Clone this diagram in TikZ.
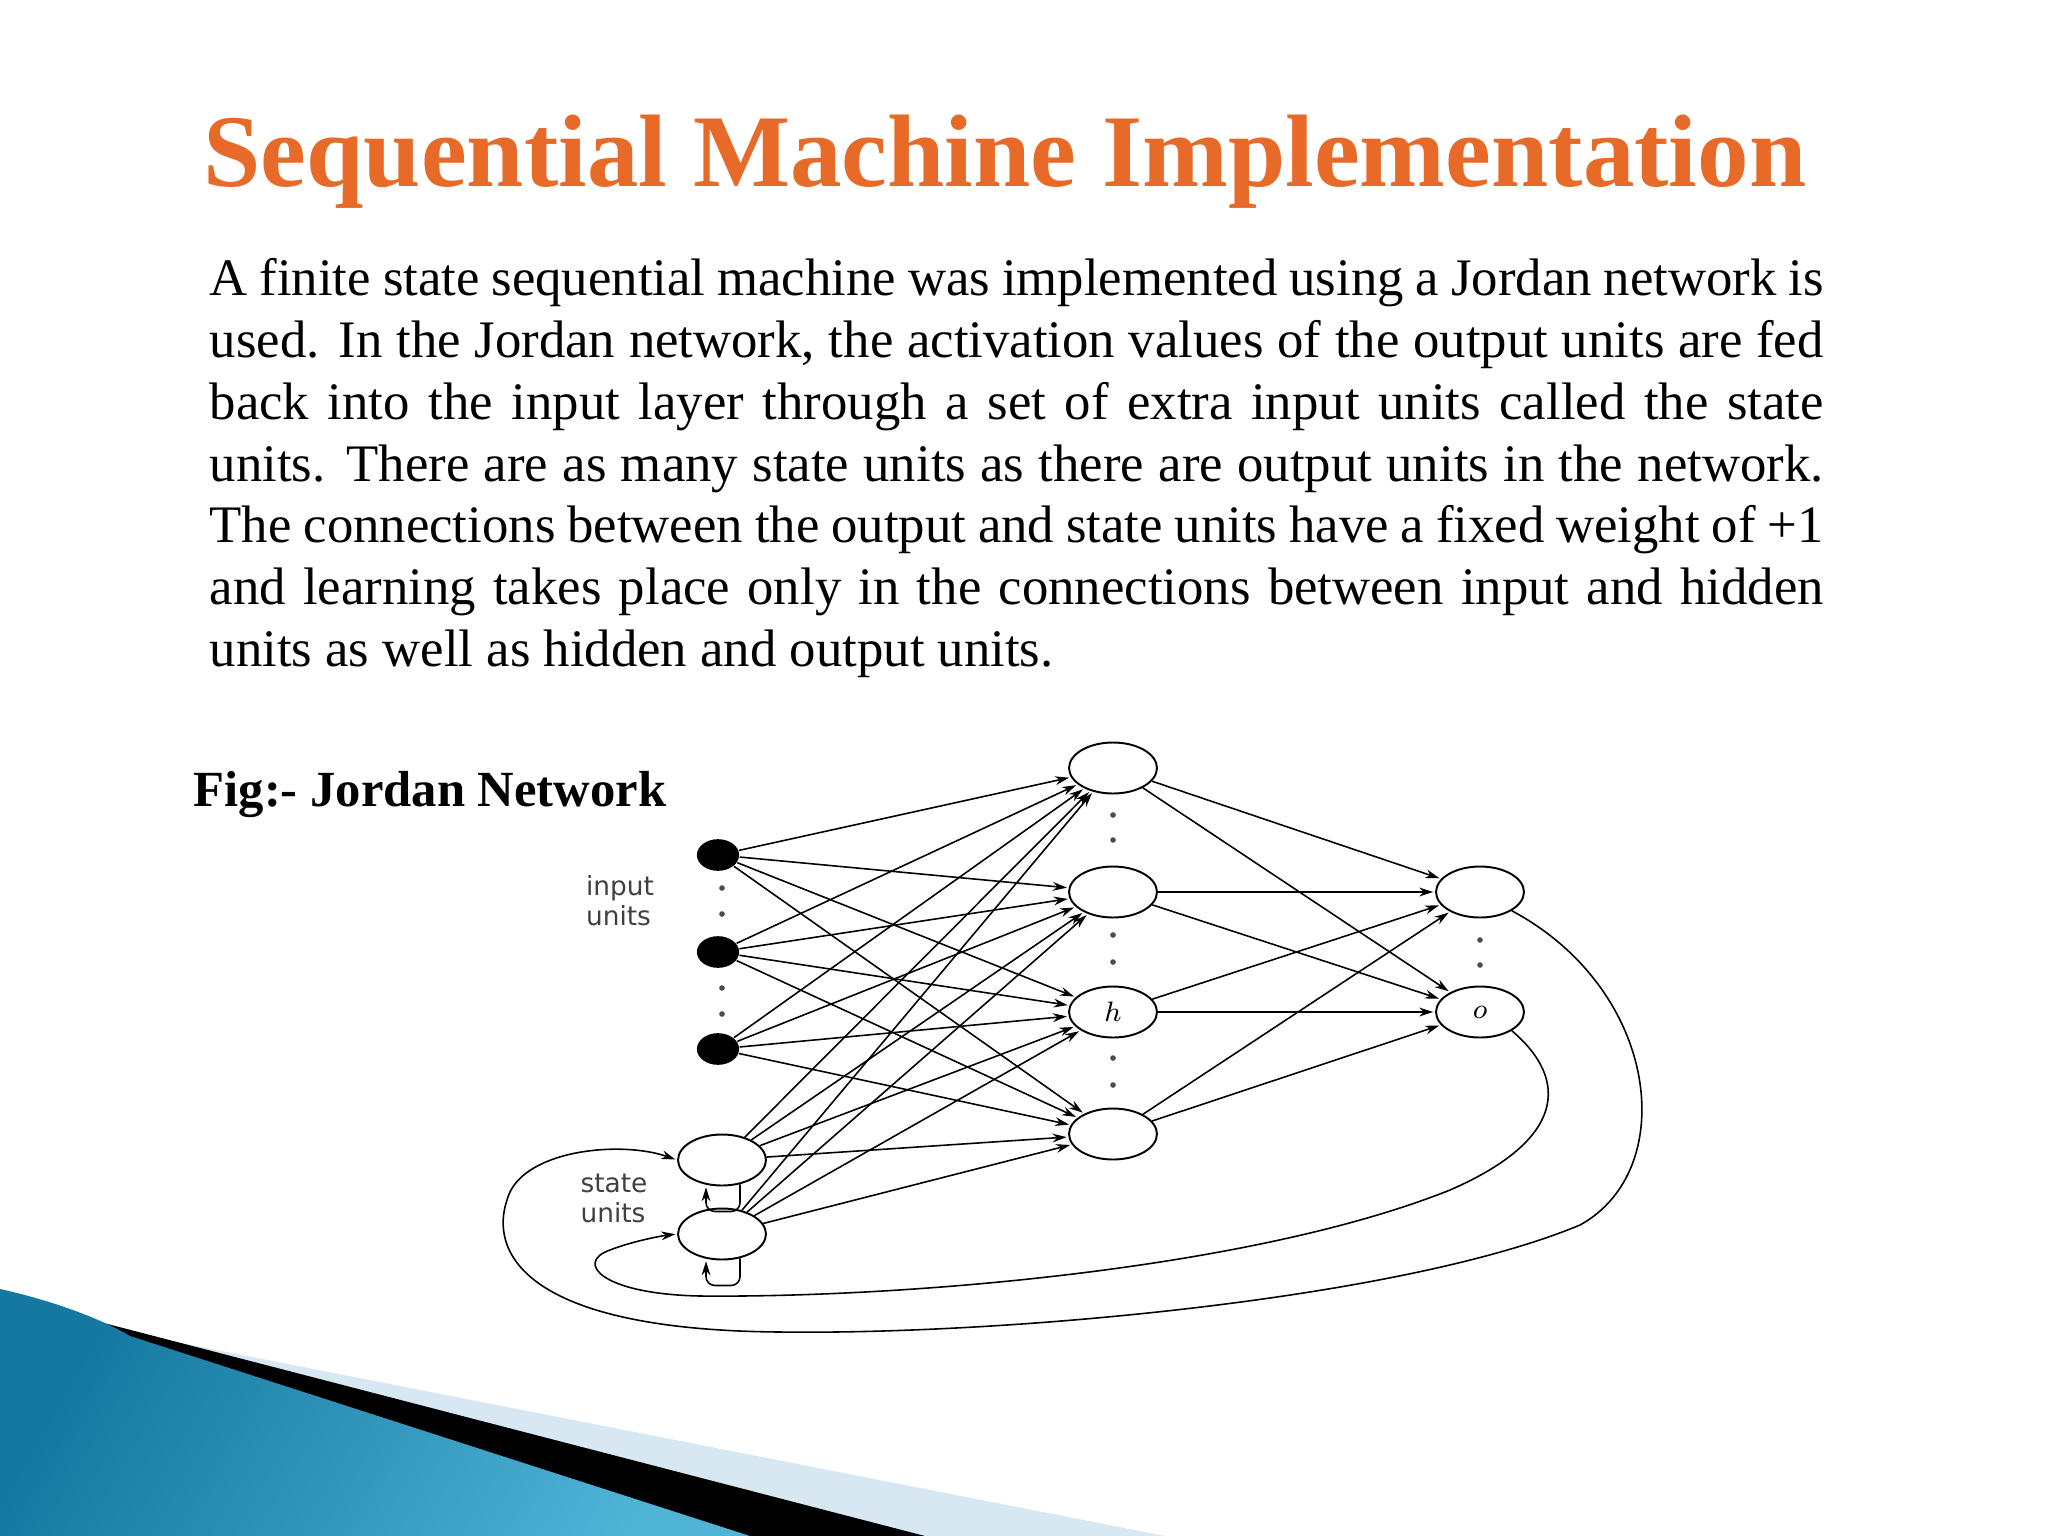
\documentclass[tikz,border=0pt]{standalone}
\usepackage{fontspec}
\setmainfont{Liberation Serif}
\setsansfont{DejaVu Sans}
\usetikzlibrary{arrows.meta,calc,shapes.geometric}
\definecolor{titleor}{RGB}{232,106,40}
\definecolor{tealA}{RGB}{20,120,160}
\definecolor{tealB}{RGB}{80,180,215}
\definecolor{lightb}{RGB}{215,232,242}
\tikzset{
  unit/.style={draw,ellipse,minimum width=25pt,minimum height=14.5pt,inner sep=0,line width=0.55pt,font=\fontsize{8}{8}\selectfont},
  inunit/.style={fill=black,ellipse,minimum width=12pt,minimum height=9pt,inner sep=0},
  conn/.style={-{Stealth[length=4pt,width=2.5pt]},line width=0.45pt,shorten >=0.5pt},
  dotty/.style={circle,fill=black!70,inner sep=0,minimum size=1.6pt},
  lbl/.style={font=\sffamily\fontsize{7.5}{8.5}\selectfont,text=black!75,align=left,inner sep=0}
}
\begin{document}
\begin{tikzpicture}[x=0.01cm,y=-0.01cm]
\useasboundingbox (0,0) rectangle (2048,1536);
\fill[white] (0,0) rectangle (2048,1536);
% bottom decoration
\fill[lightb] (140,1335) -- (1165,1536) -- (0,1536) -- cycle;
\fill[black] (100,1322) -- (925,1536) -- (0,1536) -- cycle;
\shade[left color=tealA,right color=tealB,shading angle=60] (0,1289) .. controls (50,1300) and (100,1318) .. (130,1336) -- (750,1536) -- (0,1536) -- cycle;
% title and text
\node[font=\bfseries\fontsize{29.3}{32}\selectfont,text=titleor] (title) at (1005,162) {Sequential Machine Implementation};
\node[anchor=north west,text width=16.13cm,align=justify,inner sep=0,font=\fontsize{15}{17.55}\selectfont] (body) at (209,258) {\emergencystretch=2em A finite state sequential machine was implemented using a Jordan network is\linebreak used. In the Jordan network, the activation values of the output units are fed\linebreak back into the input layer through a set of extra input units called the state\linebreak units. There are as many state units as there are output units in the network.\linebreak The connections between the output and state units have a fixed weight of +1\linebreak and learning takes place only in the connections between input and hidden\linebreak units as well as hidden and output units.};
\node[anchor=west,inner sep=0,font=\bfseries\fontsize{14.4}{16}\selectfont] (fig) at (193,795) {Fig:- Jordan Network};
% nodes
\node[unit] (h1) at (1113,768) {};
\node[unit] (h2) at (1113,892) {};
\node[unit] (h3) at (1113,1012) {$h$};
\node[unit] (h4) at (1113,1134) {};
\node[unit] (o1) at (1480,892) {};
\node[unit] (o2) at (1480,1012) {$o$};
\node[inunit] (i1) at (718,855) {};
\node[inunit] (i2) at (718,952) {};
\node[inunit] (i3) at (718,1049) {};
\node[unit] (s1) at (722,1160) {};
\node[unit] (s2) at (722,1234) {};
% dots
\foreach \y in {815,840,935,962,1058,1085} \node[dotty] at (1113,\y) {};
\foreach \y in {940,965} \node[dotty] at (1480,\y) {};
\foreach \y in {888,914,988,1014} \node[dotty] at (722,\y) {};
\node[lbl] (li) at (620,901) {input\\units};
\node[lbl] (ls) at (614,1198) {state\\units};
% connections
\foreach \a in {i1,i2,i3,s1,s2}
  \foreach \b in {h1,h2,h3,h4}
    \draw[conn] (\a) -- (\b);
\foreach \a in {h1,h2,h3,h4}
  \foreach \b in {o1,o2}
    \draw[conn] (\a) -- (\b);
% feedback
\draw[conn] (o1.south east) .. controls (1660,990) and (1680,1170) .. (1580,1225)
  .. controls (1400,1300) and (1000,1335) .. (780,1332)
  .. controls (520,1330) and (490,1250) .. (507,1200)
  .. controls (520,1150) and (620,1140) .. (s1.west);
\draw[conn] (o2.south east) .. controls (1570,1080) and (1565,1140) .. (1450,1190)
  .. controls (1250,1270) and (900,1298) .. (700,1296)
  .. controls (600,1294) and (575,1262) .. (610,1250)
  .. controls (630,1242) and (660,1236) .. (s2.west);
% self loops
\draw[conn,rounded corners=2.5pt] ($(s1.south)+(18,-2)$) -- ++(0,27) -| ($(s1.south)+(-16,-1)$);
\draw[conn,rounded corners=2.5pt] ($(s2.south)+(18,-2)$) -- ++(0,27) -| ($(s2.south)+(-16,-1)$);
\end{tikzpicture}
\end{document}
